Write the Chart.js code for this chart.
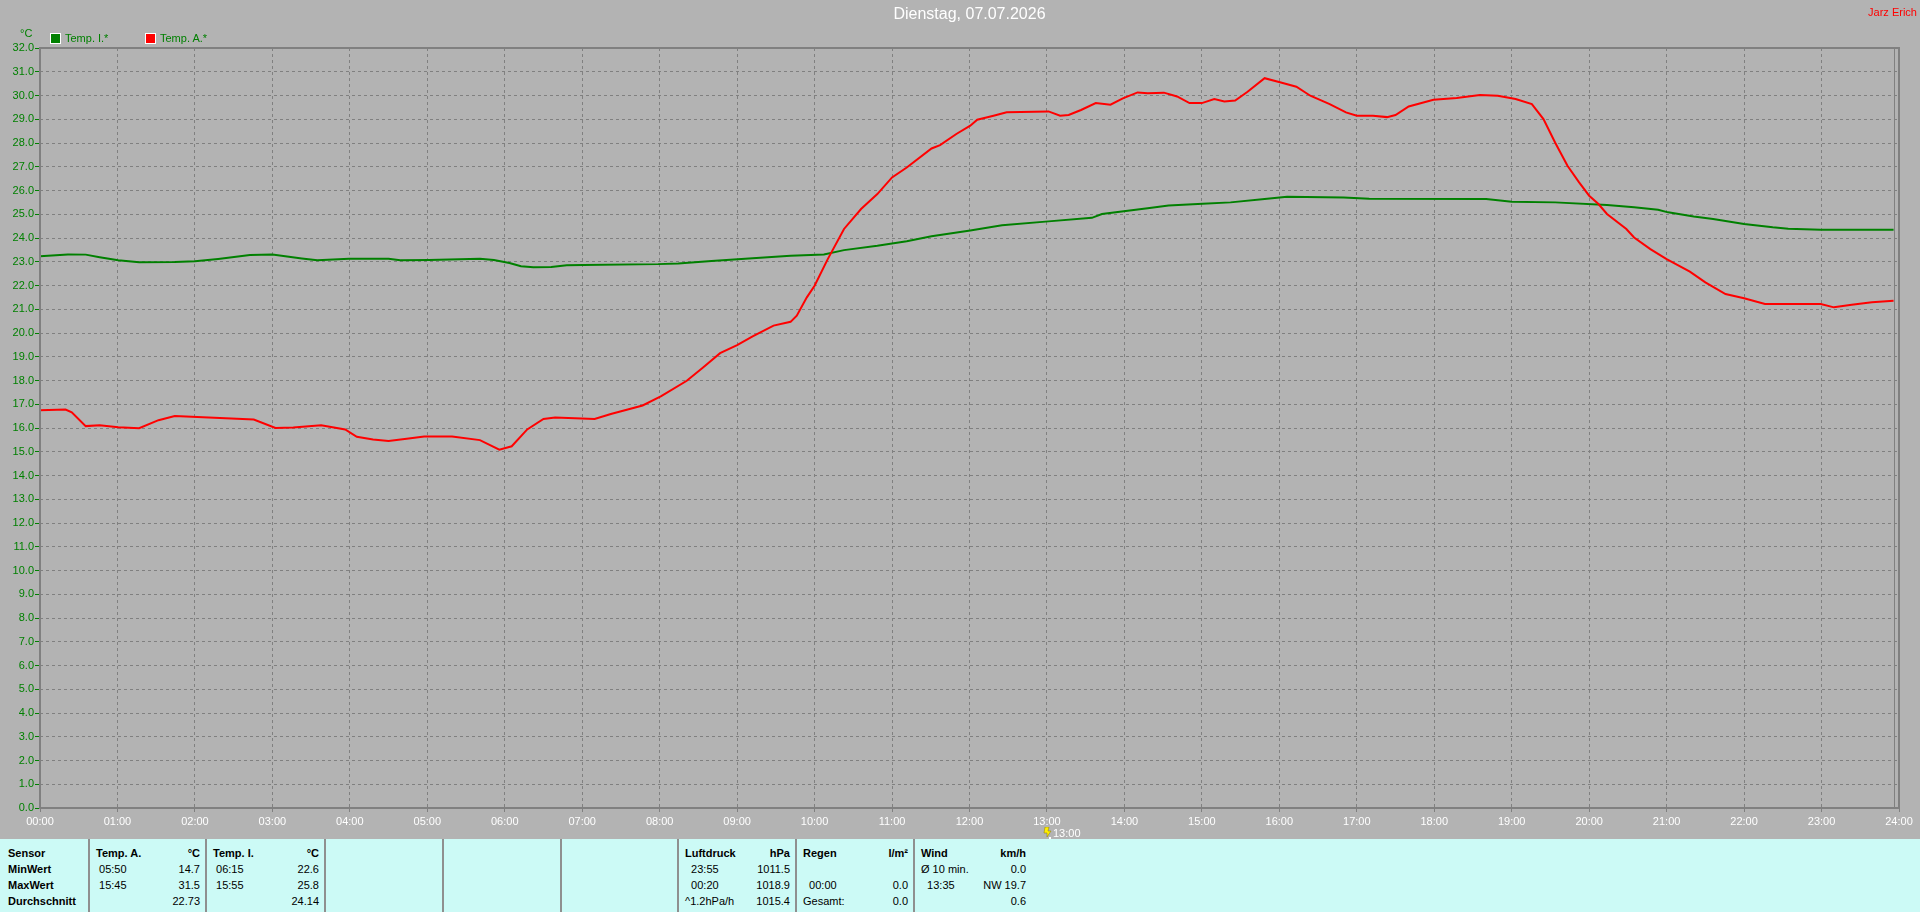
<!DOCTYPE html>
<html>
<head>
<meta charset="utf-8">
<script src="https://cdn.jsdelivr.net/npm/chart.js@4.4.1/dist/chart.umd.min.js"></script>
<style>
  body { margin: 0; width: 1920px; height: 912px; overflow: hidden; background: #b3b3b3; position: relative;
         font-family: 'Liberation Sans', Arial, sans-serif; }
  #c { position: absolute; left: 0; top: 0; }
  .ov { position: absolute; font-size: 11px; line-height: 12px; white-space: pre; }
  .box { position: absolute; width: 11px; height: 11px; box-sizing: border-box; border: 1px solid #fff; }
  #tbl { position: absolute; left: 0; top: 839px; width: 1920px; height: 73px; background: #ccfaf6; }
  .sep { position: absolute; top: 0; width: 2px; height: 73px; background: #8f8f8f; }
  .cell { position: absolute; font-size: 11px; line-height: 16px; white-space: pre; color: #000; }
  .b { font-weight: bold; }
</style>
</head>
<body>
<canvas id="c" width="1920" height="839"></canvas>

<div class="ov" style="left:20px;top:27px;color:#008000">°C</div>
<div class="box" style="left:50px;top:33px;background:#008000"></div>
<div class="ov" style="left:65px;top:32px;color:#008000">Temp. I.*</div>
<div class="box" style="left:145px;top:33px;background:#ff0000"></div>
<div class="ov" style="left:160px;top:32px;color:#008000">Temp. A.*</div>
<div class="ov" style="right:3px;top:6px;color:#ff0000">Jarz Erich</div>

<svg style="position:absolute;left:1043px;top:827px" width="10" height="13">
  <polygon points="2,0 6,0 5,4 8,4 4,10 4,6 1,6" fill="#ffee00" stroke="#8a7a00" stroke-width="0.5"/>
  <rect x="6" y="10" width="2" height="2" fill="#fff"/>
</svg>
<div class="ov" style="left:1053px;top:827px;color:#fff">13:00</div>

<div id="tbl"></div>

<script>
// Temp. A. (aussen) – time in hours, value in °C
const tempATimes = [0.00, 0.33, 0.41, 0.59, 0.77, 1.01, 1.28, 1.53, 1.74, 2.25, 2.76, 3.04, 3.27, 3.63, 3.94,
  4.09, 4.30, 4.50, 4.76, 4.96, 5.32, 5.68, 5.93, 6.09, 6.29, 6.50, 6.65, 7.16, 7.37, 7.78, 8.02, 8.35,
  8.56, 8.78, 9.00, 9.20, 9.47, 9.69, 9.77, 9.90, 10.00, 10.17, 10.38, 10.60, 10.81, 11.00, 11.19, 11.51,
  11.62, 11.83, 12.01, 12.10, 12.31, 12.48, 13.02, 13.17, 13.28, 13.44, 13.63, 13.82, 13.98, 14.17, 14.30,
  14.51, 14.68, 14.84, 15.00, 15.16, 15.29, 15.43, 15.59, 15.81, 16.02, 16.22, 16.40, 16.65, 16.86, 17.00,
  17.21, 17.39, 17.50, 17.67, 17.99, 18.29, 18.59, 18.82, 19.05, 19.26, 19.41, 19.56, 19.72, 19.87, 20.00,
  20.12, 20.23, 20.48, 20.58, 20.79, 21.00, 21.30, 21.50, 21.76, 22.00, 22.27, 22.63, 22.99, 23.16, 23.39,
  23.65, 23.93];
const tempAValues = [16.75, 16.78, 16.66, 16.08, 16.12, 16.03, 15.99, 16.33, 16.50, 16.43, 16.36, 16.00, 16.02, 16.12, 15.94,
  15.63, 15.52, 15.45, 15.56, 15.64, 15.64, 15.49, 15.09, 15.23, 15.94, 16.38, 16.44, 16.38, 16.59, 16.95, 17.34, 17.99,
  18.55, 19.15, 19.49, 19.86, 20.31, 20.47, 20.73, 21.50, 21.99, 23.11, 24.38, 25.22, 25.85, 26.55, 26.97, 27.77,
  27.91, 28.38, 28.73, 28.98, 29.15, 29.29, 29.33, 29.15, 29.18, 29.39, 29.68, 29.61, 29.88, 30.13, 30.09,
  30.12, 29.96, 29.68, 29.68, 29.85, 29.75, 29.79, 30.16, 30.73, 30.55, 30.37, 29.99, 29.64, 29.29, 29.15,
  29.15, 29.09, 29.18, 29.54, 29.82, 29.89, 30.02, 29.99, 29.85, 29.64, 29.01, 28.02, 27.04, 26.34, 25.78,
  25.43, 25.01, 24.38, 24.02, 23.53, 23.11, 22.58, 22.13, 21.64, 21.46, 21.22, 21.22, 21.22, 21.08, 21.19,
  21.29, 21.36];

// Temp. I. (innen)
const tempITimes = [0.00, 0.36, 0.59, 0.77, 1.01, 1.28, 1.74, 2.00, 2.30, 2.71, 3.00, 3.38, 3.58, 3.99, 4.50,
  4.65, 5.02, 5.68, 5.86, 6.06, 6.21, 6.37, 6.60, 6.80, 7.01, 7.98, 8.24, 8.67, 9.20, 9.69, 10.12, 10.38,
  10.81, 11.19, 11.51, 12.01, 12.42, 13.02, 13.58, 13.71, 14.30, 14.57, 15.01, 15.37, 15.81, 16.10, 16.83,
  17.16, 18.67, 19.00, 19.56, 20.23, 20.58, 20.89, 21.02, 21.35, 21.60, 22.00, 22.37, 22.57, 22.99, 23.93];
const tempIValues = [23.23, 23.31, 23.30, 23.19, 23.06, 22.98, 22.99, 23.02, 23.12, 23.28, 23.30, 23.14, 23.06, 23.13, 23.13,
  23.06, 23.07, 23.13, 23.07, 22.95, 22.81, 22.77, 22.78, 22.85, 22.86, 22.90, 22.93, 23.03, 23.15, 23.25, 23.31, 23.49,
  23.67, 23.86, 24.07, 24.32, 24.54, 24.70, 24.85, 25.01, 25.25, 25.37, 25.44, 25.50, 25.64, 25.74, 25.71,
  25.65, 25.64, 25.53, 25.50, 25.39, 25.29, 25.19, 25.08, 24.91, 24.80, 24.59, 24.45, 24.39, 24.35, 24.35];

const xTickLabels = ['00:00', '01:00', '02:00', '03:00', '04:00', '05:00', '06:00', '07:00', '08:00', '09:00',
  '10:00', '11:00', '12:00', '13:00', '14:00', '15:00', '16:00', '17:00', '18:00', '19:00', '20:00', '21:00',
  '22:00', '23:00', '24:00'];

// bottom summary table
const sensorCol = ['Sensor', 'MinWert', 'MaxWert', 'Durchschnitt'];
const tempACol = [['Temp. A.', '°C'], [' 05:50', '14.7'], [' 15:45', '31.5'], ['', '22.73']];
const tempICol = [['Temp. I.', '°C'], [' 06:15', '22.6'], [' 15:55', '25.8'], ['', '24.14']];
const pressCol = [['Luftdruck', 'hPa'], ['  23:55', '1011.5'], ['  00:20', '1018.9'], ['^1.2hPa/h', '1015.4']];
const rainCol = [['Regen', 'l/m²'], ['', ''], ['  00:00', '0.0'], ['Gesamt:', '0.0']];
const windCol = [['Wind', 'km/h'], ['Ø 10 min.', '0.0'], ['  13:35', 'NW 19.7'], ['', '0.6']];

const tbl = document.getElementById('tbl');
const seps = [88, 205, 324, 442, 560, 677, 795, 913];
seps.forEach(x => {
  const d = document.createElement('div');
  d.className = 'sep'; d.style.left = x + 'px';
  tbl.appendChild(d);
});
function addCell(text, left, top, bold, right) {
  const d = document.createElement('div');
  d.className = 'cell' + (bold ? ' b' : '');
  d.textContent = text;
  d.style.top = top + 'px';
  if (right !== undefined) d.style.right = (1920 - right) + 'px';
  else d.style.left = left + 'px';
  tbl.appendChild(d);
}
sensorCol.forEach((t, r) => addCell(t, 8, 6 + r * 16, true));
[[tempACol, 88, 205], [tempICol, 205, 324], [pressCol, 677, 795], [rainCol, 795, 913], [windCol, 913, 1031]]
  .forEach(([col, x0, x1]) => {
    col.forEach(([l, rt], r) => {
      addCell(l, x0 + 8, 6 + r * 16, r === 0);
      addCell(rt, 0, 6 + r * 16, r === 0, x1 - 5);
    });
  });

const frame = {
  id: 'frame',
  afterDraw(chart) {
    const { ctx, chartArea: a } = chart;
    ctx.save();
    ctx.strokeStyle = '#808080';
    ctx.lineWidth = 2;
    ctx.strokeRect(a.left, a.top, a.right - a.left, a.bottom - a.top);
    ctx.lineWidth = 1;
    ctx.beginPath();
    ctx.moveTo(a.right - 4.5, a.top);
    ctx.lineTo(a.right - 4.5, a.bottom);
    ctx.stroke();
    ctx.restore();
  }
};

Chart.defaults.font.family = "'Liberation Sans', Arial, sans-serif";
Chart.defaults.font.size = 11;

const toPoints = (times, values) => times.map((t, i) => ({ x: t, y: values[i] }));

new Chart(document.getElementById('c'), {
  type: 'line',
  data: {
    datasets: [
      { label: 'Temp. A.*', data: toPoints(tempATimes, tempAValues), borderColor: '#ff0000',
        borderWidth: 2, pointRadius: 0, tension: 0, order: 0 },
      { label: 'Temp. I.*', data: toPoints(tempITimes, tempIValues), borderColor: '#008000',
        borderWidth: 2, pointRadius: 0, tension: 0, order: 1 }
    ]
  },
  options: {
    responsive: false,
    animation: false,
    devicePixelRatio: 1,
    layout: { padding: { top: 0, right: 21, bottom: 0, left: 0 } },
    plugins: {
      legend: { display: false },
      tooltip: { enabled: false },
      title: {
        display: true,
        fullSize: false,
        text: 'Dienstag, 07.07.2026',
        color: '#ffffff',
        font: { size: 16, weight: 'normal', lineHeight: 1 },
        padding: { top: 7, bottom: 25 }
      }
    },
    scales: {
      x: {
        type: 'linear', min: 0, max: 24,
        afterFit: s => { s.height = 31; },
        ticks: { stepSize: 1, autoSkip: false, maxRotation: 0, color: '#ffffff',
                 callback: v => xTickLabels[v] },
        grid: { color: '#808080', tickColor: '#808080', tickLength: 4 },
        border: { display: false, dash: [3, 3] }
      },
      y: {
        min: 0, max: 32,
        afterFit: s => { s.width = 40; },
        ticks: { stepSize: 1, color: '#008000', padding: 1, callback: v => v.toFixed(1) },
        grid: { color: '#808080', tickColor: '#008000', tickLength: 5 },
        border: { display: false, dash: [3, 3] }
      }
    }
  },
  plugins: [frame]
});
</script>
</body>
</html>
